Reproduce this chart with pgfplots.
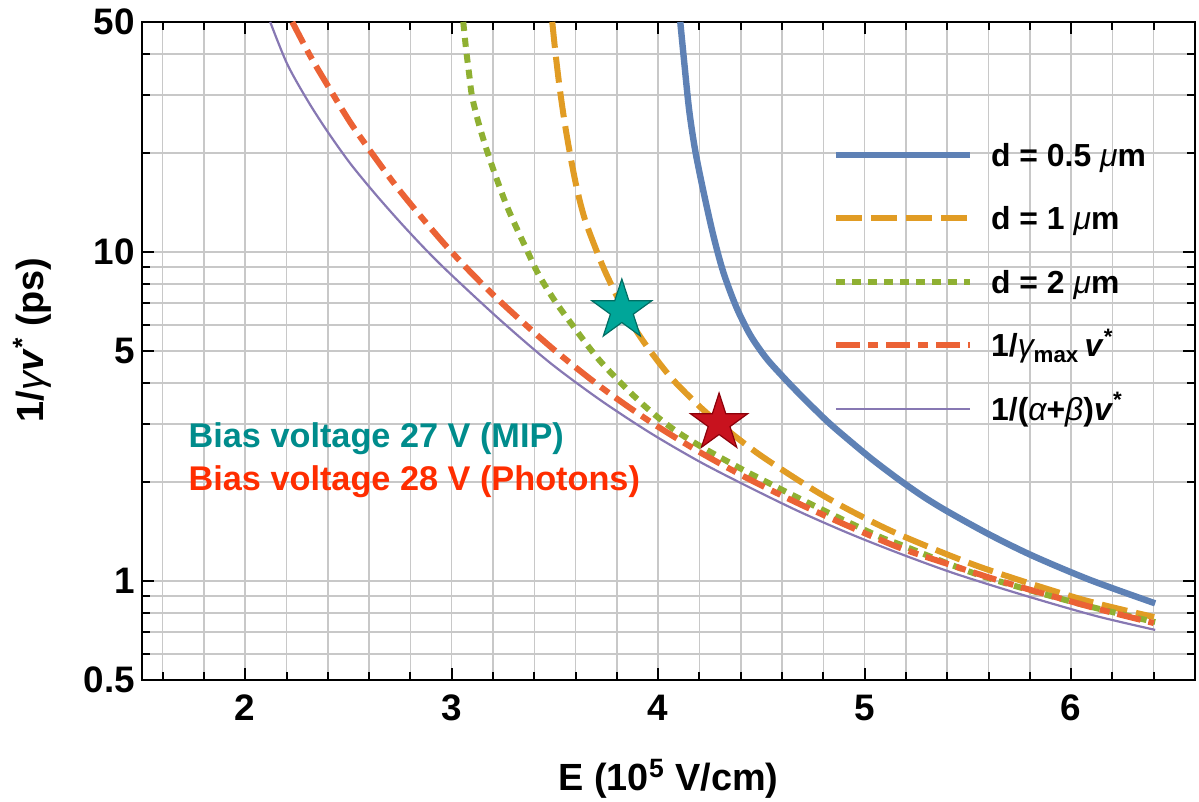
\documentclass[border=0pt]{standalone}
\usepackage{pgfplots}
\pgfplotsset{compat=1.18}
\usepackage{amsmath}
\usepackage{fontspec}
\setmainfont{Liberation Sans}

\definecolor{cBlue}{RGB}{94,129,181}
\definecolor{cOrange}{RGB}{225,156,36}
\definecolor{cGreen}{RGB}{143,176,50}
\definecolor{cRed}{RGB}{235,98,53}
\definecolor{cPurple}{RGB}{135,120,179}
\definecolor{starTeal}{RGB}{0,166,153}
\definecolor{starTealD}{RGB}{0,110,100}
\definecolor{starRed}{RGB}{200,18,30}
\definecolor{starRedD}{RGB}{140,0,10}
\definecolor{txtTeal}{RGB}{0,140,140}
\definecolor{txtRed}{RGB}{255,45,0}
\definecolor{gridc}{RGB}{200,200,200}

\pgfdeclareplotmark{fivestar}{%
  \pgfpathmoveto{\pgfpointpolar{90}{\pgfplotmarksize}}%
  \pgfpathlineto{\pgfpointpolar{126}{0.382*\pgfplotmarksize}}%
  \pgfpathlineto{\pgfpointpolar{162}{\pgfplotmarksize}}%
  \pgfpathlineto{\pgfpointpolar{198}{0.382*\pgfplotmarksize}}%
  \pgfpathlineto{\pgfpointpolar{234}{\pgfplotmarksize}}%
  \pgfpathlineto{\pgfpointpolar{270}{0.382*\pgfplotmarksize}}%
  \pgfpathlineto{\pgfpointpolar{306}{\pgfplotmarksize}}%
  \pgfpathlineto{\pgfpointpolar{342}{0.382*\pgfplotmarksize}}%
  \pgfpathlineto{\pgfpointpolar{18}{\pgfplotmarksize}}%
  \pgfpathlineto{\pgfpointpolar{54}{0.382*\pgfplotmarksize}}%
  \pgfpathclose
  \pgfusepathqfillstroke}

\begin{document}
\begin{tikzpicture}
\begin{axis}[
  name=ax,
  scale only axis,
  width=526.5bp, height=329bp,
  xmin=1.5, xmax=6.6,
  ymin=0.5, ymax=50,
  ymode=log,
  xtick={2,3,4,5,6},
  xticklabels={2,3,4,5,6},
  minor xtick={1.6,1.8,2.2,2.4,2.6,2.8,3.2,3.4,3.6,3.8,4.2,4.4,4.6,4.8,5.2,5.4,5.6,5.8,6.2,6.4,6.6},
  ytick={0.5,1,5,10,50},
  yticklabels={0.5,1,5,10,50},
  minor ytick={0.6,0.7,0.8,0.9,2,3,4,6,7,8,9,20,30,40},
  grid=both,
  major grid style={draw=gridc, line width=0.75bp},
  minor grid style={draw=gridc, line width=0.75bp},
  axis line style={line width=1bp, black},
  tick style={black, line width=1bp},
  major tick length=6bp, minor tick length=4bp,
  tick align=inside,
  ticklabel style={font=\bfseries\fontsize{18.5}{21}\selectfont},
  xticklabel style={yshift=-4bp},
  xlabel={E (10\textsuperscript{5} V/cm)},
  ylabel={1/{\mdseries\itshape γ}\textit{v}\textsuperscript{*} (ps)},
  label style={font=\bfseries\fontsize{19}{22}\selectfont},
  xlabel style={at={(axis description cs:0.5,0)}, anchor=base, yshift=-55bp},
  ylabel style={at={(axis description cs:-0.1043,0.517)}, anchor=center},
  legend cell align=left,
  legend style={at={(axis description cs:0.656,0.814)}, anchor=north west,
    draw=none, fill=none, inner sep=0pt, outer sep=0pt, column sep=0pt,
    row sep=17.75bp,
    font=\bfseries\fontsize{16}{19}\selectfont,
    nodes={inner sep=0pt, text height=11bp, text depth=3bp}},
  legend image code/.code={\draw[#1] (0bp,1.7bp) -- (67bp,1.7bp); \path (76bp,1.7bp);},
]
% d = 0.5 um
\addplot[cBlue, line width=3.2bp, smooth] coordinates {
(4.107,50.0) (4.126,37.8) (4.150,27.0) (4.179,20.4) (4.218,15.4) (4.266,11.3)
(4.315,8.70) (4.378,6.81) (4.446,5.59) (4.523,4.76) (4.605,4.17) (4.688,3.68)
(4.818,3.06) (4.930,2.66) (5.041,2.33) (5.172,2.02) (5.293,1.79) (5.414,1.61)
(5.608,1.38) (5.816,1.191) (6.092,1.007) (6.407,0.855)};
\addlegendentry{d = 0.5 {\mdseries\itshape μ}m}
% d = 1 um
\addplot[cOrange, line width=3bp, smooth, dash pattern=on 13bp off 4.5bp] coordinates {
(3.487,50.0) (3.501,41.1) (3.521,32.2) (3.545,25.2) (3.574,19.7) (3.608,15.4)
(3.646,12.5) (3.700,10.14) (3.748,8.58) (3.826,6.81) (3.898,5.71) (3.976,4.86)
(4.073,4.08) (4.203,3.38) (4.315,2.94) (4.479,2.45) (4.639,2.10) (4.785,1.84)
(4.944,1.62) (5.172,1.38) (5.559,1.103) (6.044,0.882) (6.402,0.777)};
\addlegendentry{d = 1 {\mdseries\itshape μ}m}
% d = 2 um
\addplot[cGreen, line width=3bp, smooth, dash pattern=on 4.5bp off 3.5bp] coordinates {
(3.056,50.0) (3.070,41.1) (3.085,34.5) (3.099,29.6) (3.133,24.3) (3.186,19.0)
(3.269,13.7) (3.366,10.07) (3.419,8.58) (3.487,7.30) (3.559,6.30) (3.719,4.66)
(3.913,3.50) (4.058,2.94) (4.203,2.57) (4.421,2.16) (4.639,1.84) (4.857,1.576)
(5.075,1.36) (5.172,1.29) (5.559,1.04) (6.044,0.851) (6.407,0.750)};
\addlegendentry{d = 2 {\mdseries\itshape μ}m}
% 1/gamma_max v*
\addplot[cRed, line width=3bp, smooth, dash pattern=on 12bp off 4bp on 5bp off 4bp] coordinates {
(2.228,50.0) (2.315,39.4) (2.412,31.1) (2.508,24.8) (2.605,20.3) (2.726,16.0)
(2.847,12.9) (2.969,10.5) (3.090,8.70) (3.235,7.07) (3.477,5.16) (3.719,3.90)
(3.961,3.05) (4.203,2.46) (4.446,2.03) (4.688,1.71) (4.930,1.46) (5.172,1.26)
(5.414,1.12) (5.656,1.00) (5.898,0.903) (6.140,0.819) (6.400,0.745)};
\addlegendentry{1/{\mdseries\itshape γ}\textsubscript{max}\,\textit{v}\textsuperscript{*}}
% 1/(alpha+beta) v*
\addplot[cPurple, line width=1.1bp, smooth] coordinates {
(2.121,50.0) (2.203,37.3) (2.300,29.0) (2.397,23.3) (2.508,18.6) (2.630,15.0)
(2.751,12.3) (2.872,10.2) (2.993,8.58) (3.235,6.21) (3.477,4.60) (3.719,3.55)
(3.961,2.82) (4.203,2.30) (4.446,1.92) (4.688,1.62) (4.930,1.39) (5.172,1.21)
(5.414,1.065) (5.656,0.952) (5.898,0.857) (6.140,0.777) (6.407,0.710)};
\addlegendentry{1/({\mdseries\itshape α}+{\mdseries\itshape β})\textit{v}\textsuperscript{*}}
% stars
\addplot[only marks, mark=fivestar, mark size=15.75bp, mark options={fill=starTeal, draw=starTealD, line width=0.6bp}, forget plot] coordinates {(3.824,6.64)};
\addplot[only marks, mark=fivestar, mark size=15bp, mark options={fill=starRed, draw=starRedD, line width=0.6bp}, forget plot] coordinates {(4.295,3.02)};
\node[anchor=base west, text=txtTeal, font=\bfseries\fontsize{17.2}{20}\selectfont, inner sep=0pt] at (axis cs:1.724,2.537) {Bias voltage 27 V (MIP)};
\node[anchor=base west, text=txtRed, font=\bfseries\fontsize{17.2}{20}\selectfont, inner sep=0pt] at (axis cs:1.724,1.877) {Bias voltage 28 V (Photons)};
\end{axis}
\pgfresetboundingbox
\path ([xshift=-71bp,yshift=-61bp]ax.south west) rectangle ([xshift=2bp,yshift=11bp]ax.north east);
\end{tikzpicture}
\end{document}
